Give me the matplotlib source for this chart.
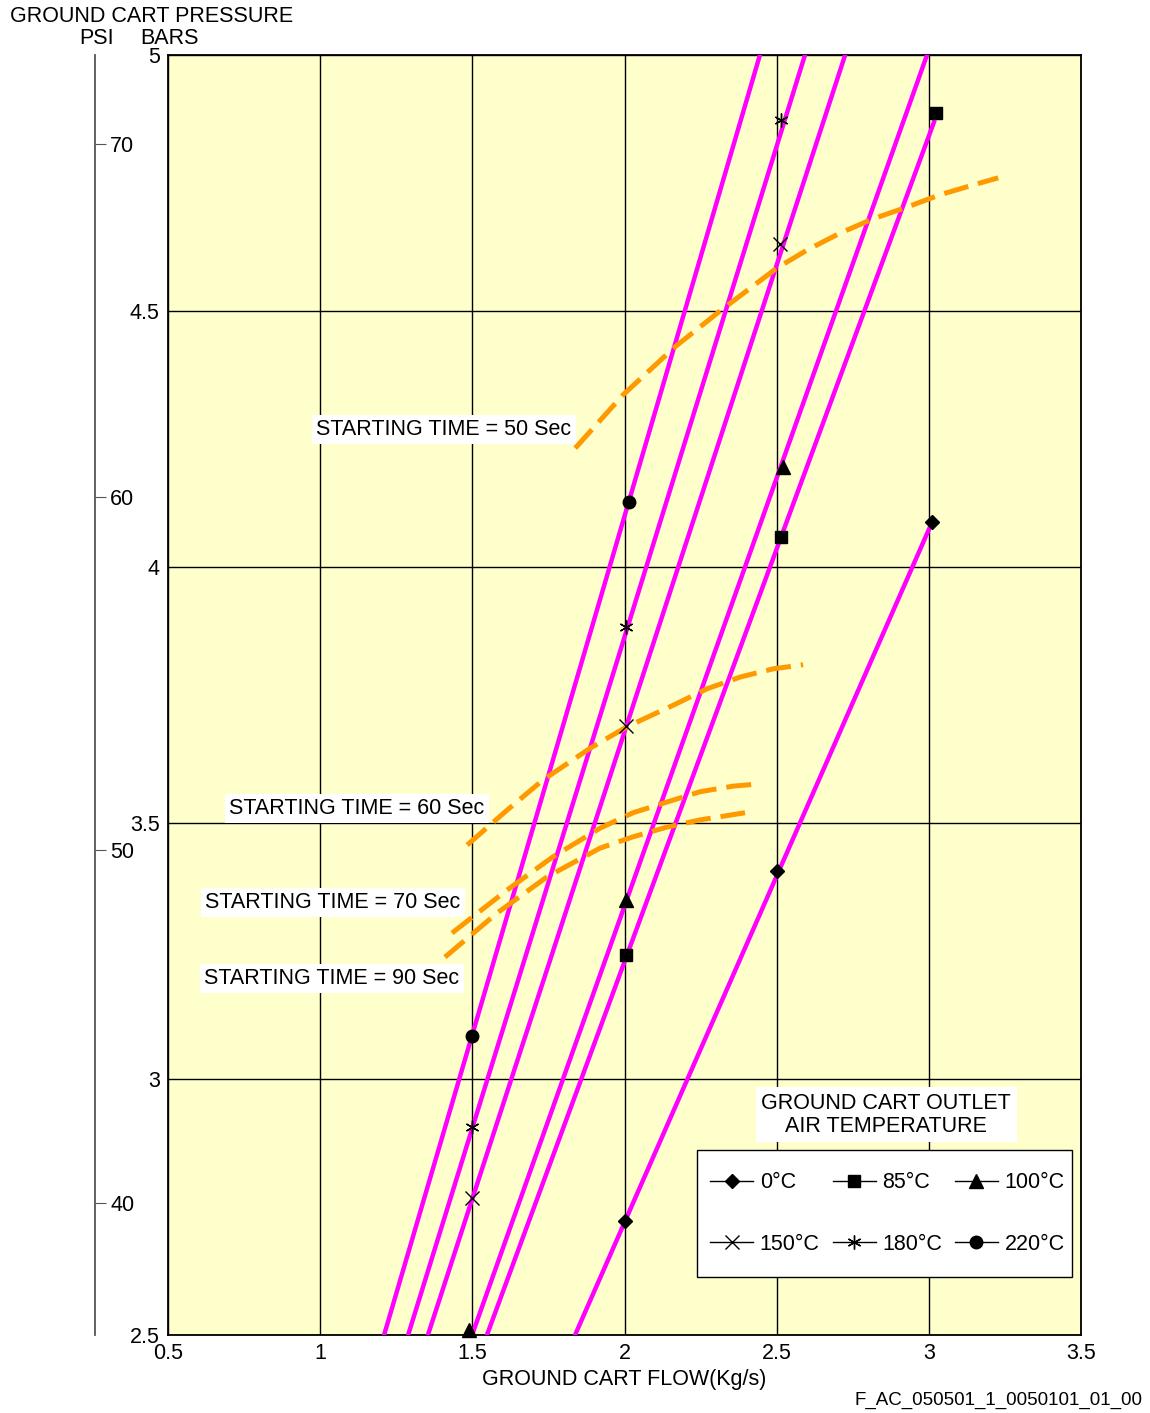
import matplotlib
matplotlib.use("Agg")
import matplotlib.pyplot as plt
from matplotlib.lines import Line2D
from matplotlib.patches import Rectangle

plt.rcParams['font.family'] = ['Liberation Sans', 'DejaVu Sans']
FS = 15.5

# temperatures / marker styles
temps = ["0°C", "85°C", "100°C", "150°C", "180°C", "220°C"]
markers = ["D", "s", "^", "x", (6, 2, 0), "o"]
msizes = [7.5, 9, 10, 10, 10, 9]

# measured points (flow kg/s, pressure bar)
pts_x = {
    "0°C": [2.0, 2.5, 3.01],
    "85°C": [2.005, 2.515, 3.024],
    "100°C": [1.49, 2.005, 2.52],
    "150°C": [1.5, 2.005, 2.51],
    "180°C": [1.5, 2.005, 2.515],
    "220°C": [1.5, 2.015],
}
pts_y = {
    "0°C": [2.723, 3.406, 4.088],
    "85°C": [3.242, 4.059, 4.887],
    "100°C": [2.51, 3.35, 4.195],
    "150°C": [2.768, 3.689, 4.631],
    "180°C": [2.906, 3.883, 4.873],
    "220°C": [3.084, 4.127],
}

# magenta line ends (x at bottom, x/y at top)
line_x0 = [1.8375, 1.548, 1.499, 1.354, 1.289, 1.210]
line_y0 = [2.5, 2.5, 2.5, 2.5, 2.5, 2.5]
line_x1 = [3.011, 3.017, 2.994, 2.725, 2.593, 2.445]
line_y1 = [4.088, 4.869, 5.0, 5.0, 5.0, 5.0]

# starting time curves
st50_x = [1.838, 1.995, 2.166, 2.314, 2.501, 2.600, 2.708, 2.817, 2.929, 3.037, 3.145, 3.228]
st50_y = [4.232, 4.336, 4.430, 4.500, 4.584, 4.619, 4.652, 4.680, 4.703, 4.727, 4.746, 4.760]
st60_x = [1.483, 1.614, 1.732, 1.887, 2.008, 2.160, 2.271, 2.380, 2.488, 2.587]
st60_y = [3.457, 3.525, 3.584, 3.646, 3.688, 3.730, 3.762, 3.785, 3.801, 3.809]
st70_x = [1.433, 1.614, 1.765, 1.920, 2.028, 2.140, 2.248, 2.357, 2.436]
st70_y = [3.285, 3.369, 3.434, 3.490, 3.520, 3.541, 3.561, 3.572, 3.576]
st90_x = [1.410, 1.581, 1.746, 1.920, 2.028, 2.140, 2.248, 2.396]
st90_y = [3.238, 3.324, 3.395, 3.451, 3.473, 3.492, 3.506, 3.520]

x_ticks = [0.5, 1, 1.5, 2, 2.5, 3, 3.5]
y_ticks = [2.5, 3, 3.5, 4, 4.5, 5]
psi_ticks = [40, 50, 60, 70]

fig = plt.figure(figsize=(11.5, 14.13), dpi=100)
ax = fig.add_axes([0.1461, 0.0552, 0.7939, 0.9059])
ax.set_facecolor("#FFFFCC")
ax.set_xlim(0.5, 3.5)
ax.set_ylim(2.5, 5)
ax.set_xticks(x_ticks)
ax.set_xticklabels(["0.5", "1", "1.5", "2", "2.5", "3", "3.5"])
ax.set_yticks(y_ticks)
ax.set_yticklabels(["2.5", "3", "3.5", "4", "4.5", "5"])
ax.tick_params(length=0, labelsize=FS, pad=6)
ax.grid(True, color="black", linewidth=1)
for s in ax.spines.values():
    s.set_linewidth(1.3)

for i in range(6):
    ax.plot([line_x0[i], line_x1[i]], [line_y0[i], line_y1[i]], color="#FF00FF", lw=3.2, zorder=3)

for cx, cy in [(st50_x, st50_y), (st60_x, st60_y), (st70_x, st70_y), (st90_x, st90_y)]:
    ax.plot(cx, cy, color="#FF9900", lw=3.6, dashes=(5, 2), dash_capstyle="butt", zorder=4)

for t, m, s in zip(temps, markers, msizes):
    ax.plot(pts_x[t], pts_y[t], ls="none", marker=m, color="black",
            ms=s, mew=1, zorder=5, clip_on=False)

box = dict(facecolor="white", edgecolor="none", pad=3)
ax.text(1.407, 4.268, "STARTING TIME = 50 Sec", ha="center", va="center", fontsize=FS, bbox=box, zorder=6)
ax.text(1.121, 3.529, "STARTING TIME = 60 Sec", ha="center", va="center", fontsize=FS, bbox=box, zorder=6)
ax.text(1.042, 3.344, "STARTING TIME = 70 Sec", ha="center", va="center", fontsize=FS, bbox=box, zorder=6)
ax.text(1.039, 3.197, "STARTING TIME = 90 Sec", ha="center", va="center", fontsize=FS, bbox=box, zorder=6)
ax.text(2.86, 2.93, "GROUND CART OUTLET\nAIR TEMPERATURE", ha="center", va="center",
        fontsize=FS, linespacing=1.1, bbox=dict(facecolor="white", edgecolor="none", pad=4), zorder=6)

# legend box, filled row by row
ax.add_patch(Rectangle((0.579, 0.0453), 0.411, 0.0992, transform=ax.transAxes,
                       facecolor="white", edgecolor="black", lw=1, zorder=6))
order = [0, 3, 1, 4, 2, 5]
handles = [Line2D([], [], color="black", lw=1, marker=markers[i], ms=msizes[i], mew=1)
           for i in order]
labels = [temps[i] for i in order]
leg = ax.legend(handles, labels, ncol=3, loc="center",
                bbox_to_anchor=(0.5825, 0.0453, 0.411, 0.0992), fontsize=FS,
                frameon=False, handlelength=2.0, handletextpad=0.3, columnspacing=0.6,
                labelspacing=1.9, borderpad=0.0)
leg.set_zorder(7)

# psi scale
sec = ax.secondary_yaxis(-0.08, functions=(lambda b: b * 14.5038, lambda p: p / 14.5038))
sec.set_alignment("right")
sec.set_yticks(psi_ticks)
sec.tick_params(axis="y", length=8, color="#555555", labelsize=FS, pad=3)
sec.spines["right"].set_color("#555555")
sec.spines["right"].set_linewidth(1.3)

ax.set_xlabel("GROUND CART FLOW(Kg/s)", fontsize=FS, labelpad=3)

fig.text(10 / 1150, 1 - 16 / 1413, "GROUND CART PRESSURE", ha="left", va="center", fontsize=FS)
fig.text(97 / 1150, 1 - 38 / 1413, "PSI", ha="center", va="center", fontsize=FS)
fig.text(170 / 1150, 1 - 38 / 1413, "BARS", ha="center", va="center", fontsize=FS)
fig.text(1142 / 1150, 1 - 1400 / 1413, "F_AC_050501_1_0050101_01_00", ha="right", va="center", fontsize=13.5)

fig.savefig("out.png", dpi=100)
